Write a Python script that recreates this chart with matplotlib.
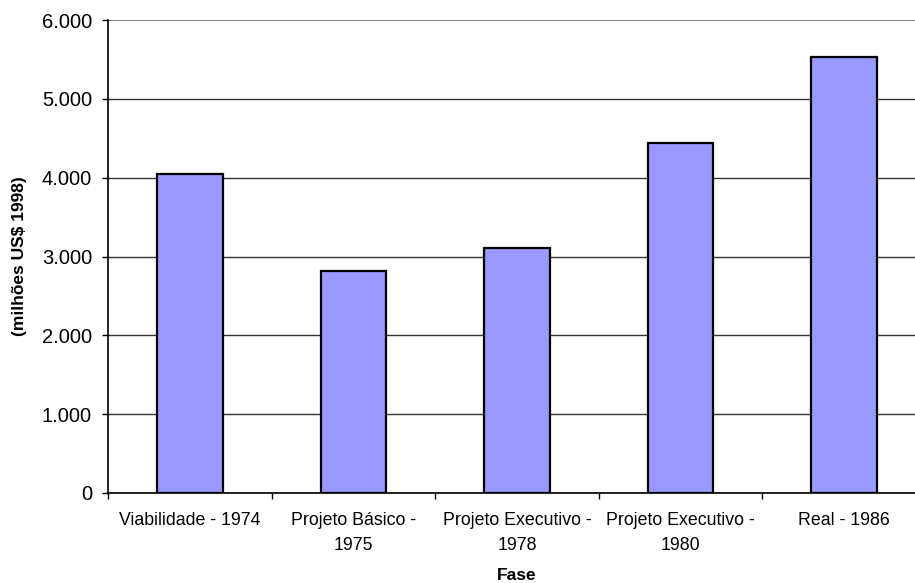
import matplotlib
matplotlib.use('Agg')
import matplotlib.pyplot as plt
from matplotlib.ticker import FuncFormatter, FixedLocator

fases = ['Viabilidade - 1974', 'Projeto Básico -\n1975', 'Projeto Executivo -\n1978',
         'Projeto Executivo -\n1980', 'Real - 1986']
custos = [4047, 2817, 3105, 4436, 5534]
y_ticks = [0, 1000, 2000, 3000, 4000, 5000, 6000]

plt.rcParams['font.family'] = ['Liberation Sans', 'DejaVu Sans']

fig = plt.figure(figsize=(9.15, 5.83), dpi=100)
ax = fig.add_axes([108/915, 90/583, 818/915, 473/583])

x = range(len(fases))
ax.bar(x, custos, width=0.4, color='#9999FF', edgecolor='black', linewidth=1.6, zorder=3)

ax.set_xlim(-0.5, len(fases) - 0.5)
ax.set_ylim(0, 6000)

ax.yaxis.set_major_locator(FixedLocator(y_ticks))
ax.yaxis.set_major_formatter(FuncFormatter(lambda v, p: f'{int(v):,}'.replace(',', '.')))
ax.grid(axis='y', color='#333333', linewidth=1.0, zorder=0)
ax.get_ygridlines()[-1].set_color('#888888')
ax.get_ygridlines()[-1].set_linewidth(1.5)

# category boundaries get the tick marks, labels sit in the middle
ax.xaxis.set_major_locator(FixedLocator([i - 0.5 for i in range(len(fases) + 1)]))
ax.xaxis.set_minor_locator(FixedLocator(list(x)))
ax.set_xticklabels([])
ax.set_xticklabels(fases, minor=True, fontsize=12.8, linespacing=1.55)
ax.tick_params(axis='x', which='major', length=4.5, width=1, color='black', direction='out')
ax.tick_params(axis='x', which='minor', length=0, pad=14)
ax.tick_params(axis='y', length=4.5, width=1, labelsize=14.5, pad=7)

for s in ['top', 'right']:
    ax.spines[s].set_visible(False)
for s in ['left', 'bottom']:
    ax.spines[s].set_color('black')
    ax.spines[s].set_linewidth(1.2)
    ax.spines[s].set_zorder(4)

fig.text(517/915, 1 - 575/583, 'Fase', fontsize=12.5, fontweight='bold',
         ha='center', va='center')
fig.text(20/915, 1 - 256/583, '(milhões US$ 1998)', rotation=90, fontsize=12.5,
         fontweight='bold', ha='center', va='center')

fig.savefig('out.png', dpi=100)
